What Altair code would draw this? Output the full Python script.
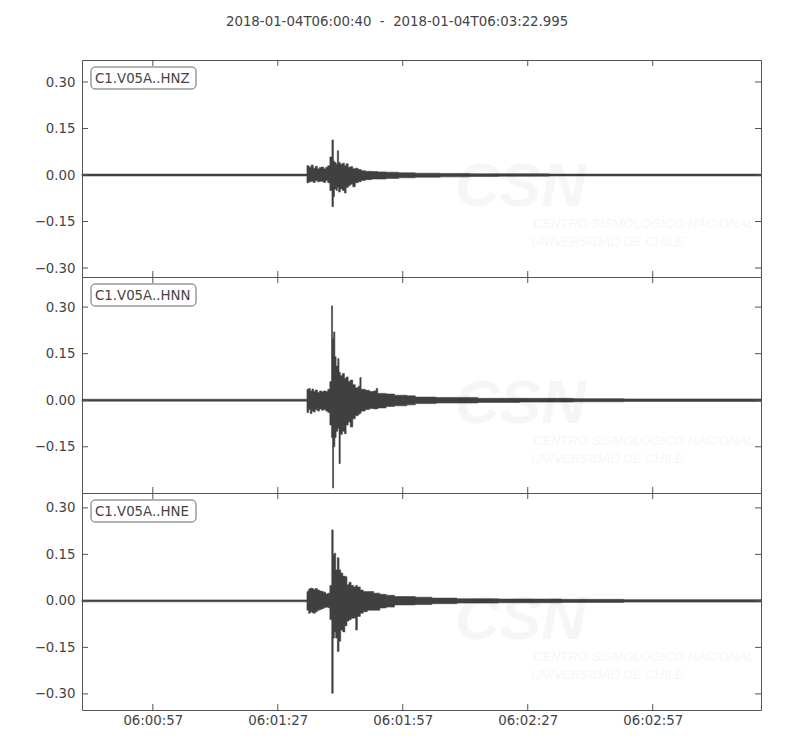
import altair as alt
import pandas as pd

TITLE = "2018-01-04T06:00:40\u00a0\u00a0-\u00a0\u00a02018-01-04T06:03:22.995"
T_END = 162.995  # seconds after 06:00:40
XTICK_SECONDS = [17, 47, 77, 107, 137]
XTICK_LABELS = ["06:00:57", "06:01:27", "06:01:57", "06:02:27", "06:02:57"]
YTICKS = [-0.30, -0.15, 0.0, 0.15, 0.30]

CHANNELS = ["C1.V05A..HNZ", "C1.V05A..HNN", "C1.V05A..HNE"]
Y_DOMAINS = [[-0.329, 0.371], [-0.299, 0.397], [-0.352, 0.348]]
Y_LABELLED = [[-0.30, -0.15, 0.0, 0.15, 0.30],
              [-0.15, 0.0, 0.15, 0.30],
              [-0.30, -0.15, 0.0, 0.15, 0.30]]

# envelope (max / min per time window) of each trace, seconds after 06:00:40
HNZ_T = [0, 54.0, 54.5, 55.0, 55.5, 56.0, 56.5, 57.0, 57.5, 58.0,
         58.5, 59.0, 59.5, 60.0, 60.35, 60.6, 61.0, 61.3, 61.6, 62.0,
         62.5, 63.0, 63.4, 63.9, 64.4, 65.0, 65.6, 66.3, 67.0, 68.0,
         69.5, 71.0, 73.0, 76.0, 80.0, 86.0, 93.0, 100.0, 112.0, 162.995]
HNZ_HI = [0.003, 0.030, 0.025, 0.032, 0.022, 0.028, 0.020, 0.024, 0.026, 0.020,
          0.025, 0.030, 0.058, 0.113, 0.045, 0.040, 0.035, 0.078, 0.040, 0.035,
          0.038, 0.030, 0.036, 0.025, 0.027, 0.020, 0.022, 0.018, 0.014, 0.012,
          0.011, 0.010, 0.009, 0.007, 0.006, 0.005, 0.004, 0.004, 0.003, 0.003]
HNZ_LO = [-0.003, -0.025, -0.022, -0.020, -0.024, -0.018, -0.022, -0.020, -0.021, -0.024,
          -0.018, -0.025, -0.050, -0.102, -0.070, -0.045, -0.050, -0.040, -0.055, -0.045,
          -0.050, -0.058, -0.040, -0.035, -0.030, -0.038, -0.025, -0.022, -0.018, -0.015,
          -0.013, -0.013, -0.011, -0.009, -0.007, -0.006, -0.005, -0.004, -0.003, -0.003]

HNN_T = [0, 54.0, 54.4, 54.8, 55.2, 55.6, 56.0, 56.5, 57.0, 57.5,
         58.0, 58.5, 59.0, 59.5, 59.9, 60.15, 60.4, 60.7, 61.0, 61.4,
         61.7, 62.0, 62.5, 63.0, 63.4, 63.9, 64.4, 65.0, 65.6, 66.3,
         66.7, 67.0, 68.0, 69.0, 70.0, 70.6, 71.0, 73.0, 75.0, 78.0,
         80.0, 85.0, 90.0, 95.0, 105.0, 118.0, 130.0, 162.995]
HNN_HI = [0.003, 0.035, 0.038, 0.030, 0.036, 0.028, 0.033, 0.025, 0.030, 0.027,
          0.030, 0.028, 0.035, 0.060, 0.304, 0.200, 0.220, 0.140, 0.110, 0.134,
          0.090, 0.080, 0.086, 0.070, 0.075, 0.060, 0.065, 0.050, 0.040, 0.045,
          0.073, 0.035, 0.032, 0.028, 0.030, 0.038, 0.022, 0.020, 0.016, 0.014,
          0.010, 0.009, 0.009, 0.006, 0.006, 0.005, 0.004, 0.004]
HNN_LO = [-0.003, -0.040, -0.030, -0.043, -0.035, -0.038, -0.030, -0.035, -0.028, -0.032,
          -0.030, -0.035, -0.040, -0.080, -0.120, -0.283, -0.150, -0.120, -0.100, -0.090,
          -0.204, -0.110, -0.100, -0.108, -0.080, -0.070, -0.086, -0.060, -0.050, -0.045,
          -0.042, -0.035, -0.030, -0.027, -0.028, -0.028, -0.025, -0.020, -0.018, -0.015,
          -0.011, -0.009, -0.009, -0.007, -0.006, -0.005, -0.004, -0.004]

HNE_T = [0, 54.0, 54.4, 54.8, 55.2, 55.6, 56.0, 56.5, 57.0, 57.5,
         58.0, 58.5, 59.0, 59.5, 59.95, 60.3, 60.6, 60.9, 61.3, 61.7,
         62.1, 62.6, 63.1, 63.6, 64.1, 64.6, 65.2, 65.7, 66.1, 66.8,
         67.5, 68.5, 70.0, 71.5, 73.0, 75.0, 80.0, 84.0, 90.0, 100.0,
         115.0, 130.0, 162.995]
HNE_HI = [0.003, 0.030, 0.038, 0.041, 0.040, 0.036, 0.040, 0.035, 0.032, 0.030,
          0.028, 0.022, 0.025, 0.050, 0.229, 0.150, 0.154, 0.100, 0.139, 0.100,
          0.090, 0.080, 0.078, 0.052, 0.060, 0.050, 0.045, 0.050, 0.045, 0.035,
          0.030, 0.030, 0.025, 0.021, 0.018, 0.014, 0.012, 0.009, 0.007, 0.006,
          0.005, 0.004, 0.004]
HNE_LO = [-0.003, -0.030, -0.040, -0.035, -0.038, -0.040, -0.035, -0.030, -0.028, -0.025,
          -0.022, -0.020, -0.022, -0.060, -0.298, -0.120, -0.100, -0.120, -0.163, -0.130,
          -0.094, -0.100, -0.080, -0.065, -0.061, -0.056, -0.055, -0.094, -0.050, -0.040,
          -0.035, -0.030, -0.030, -0.023, -0.020, -0.013, -0.012, -0.009, -0.007, -0.006,
          -0.005, -0.004, -0.004]

TRACES = [(HNZ_T, HNZ_HI, HNZ_LO), (HNN_T, HNN_HI, HNN_LO), (HNE_T, HNE_HI, HNE_LO)]

FONT = "DejaVu Sans"
TEXT = "#444444"
WAVE = "#404040"
FRAME = "#555555"
W = 679
HEIGHTS = [217, 216, 217]
TICK = 6
FS = 13.33


def x_label_expr():
    parts = [f"datum.value == {s} ? '{l}'" for s, l in zip(XTICK_SECONDS, XTICK_LABELS)]
    return " : ".join(parts) + " : ''"


def panel(i, show_x):
    t, hi, lo = TRACES[i]
    h = HEIGHTS[i]
    df = pd.DataFrame({"t": t, "hi": hi, "lo": lo})
    xs = alt.Scale(domain=[0, T_END], nice=False, zero=False)
    ys = alt.Scale(domain=Y_DOMAINS[i], nice=False, zero=False)
    if show_x:
        xaxis = alt.Axis(values=XTICK_SECONDS, labelExpr=x_label_expr(), ticks=False,
                         domain=False, grid=False, title=None, labelPadding=3,
                         labelFontSize=FS, labelFont=FONT, labelColor=TEXT)
    else:
        xaxis = None
    yaxis = alt.Axis(values=Y_LABELLED[i], format=".2f", ticks=False, domain=False,
                     grid=False, title=None, labelPadding=7, minExtent=50, maxExtent=50,
                     labelFontSize=FS, labelFont=FONT, labelColor=TEXT)

    wave = alt.Chart(df).mark_area(
        interpolate="step-after", color=WAVE, stroke=WAVE, strokeWidth=0.6
    ).encode(
        x=alt.X("t:Q", scale=xs, axis=xaxis),
        y=alt.Y("hi:Q", scale=ys, axis=yaxis),
        y2="lo:Q",
    )

    one = pd.DataFrame({"a": [0]})
    wm_csn = alt.Chart(one).mark_text(
        text="CSN", font="Liberation Sans", fontStyle="italic", fontWeight="bold",
        fontSize=62, color="#000000", opacity=0.03, align="left", baseline="alphabetic"
    ).encode(x=alt.value(373), y=alt.value(146))
    wm_l1 = alt.Chart(one).mark_text(
        text="CENTRO SISMOLÓGICO NACIONAL", font="Liberation Sans", fontStyle="italic",
        fontSize=13, color="#000000", opacity=0.035, align="left", baseline="middle"
    ).encode(x=alt.value(451), y=alt.value(164))
    wm_l2 = alt.Chart(one).mark_text(
        text="UNIVERSIDAD DE CHILE", font="Liberation Sans", fontStyle="italic",
        fontSize=13, color="#000000", opacity=0.035, align="left", baseline="middle"
    ).encode(x=alt.value(449), y=alt.value(182))

    yt = pd.DataFrame({"v": [v for v in YTICKS if Y_DOMAINS[i][0] < v < Y_DOMAINS[i][1]]})
    xt = pd.DataFrame({"v": XTICK_SECONDS})
    rule = dict(color=FRAME, strokeWidth=1)
    yl = alt.Chart(yt).mark_rule(**rule).encode(
        y=alt.Y("v:Q", scale=ys), x=alt.value(0), x2=alt.value(TICK))
    yr = alt.Chart(yt).mark_rule(**rule).encode(
        y=alt.Y("v:Q", scale=ys), x=alt.value(W - TICK), x2=alt.value(W))
    xtop = alt.Chart(xt).mark_rule(**rule).encode(
        x=alt.X("v:Q", scale=xs), y=alt.value(0), y2=alt.value(TICK))
    xbot = alt.Chart(xt).mark_rule(**rule).encode(
        x=alt.X("v:Q", scale=xs), y=alt.value(h - TICK), y2=alt.value(h))

    lab = pd.DataFrame({"label": [CHANNELS[i]]})
    box = alt.Chart(lab).mark_rect(
        fill="white", stroke="#666666", strokeWidth=1, cornerRadius=4
    ).encode(x=alt.value(9), x2=alt.value(114), y=alt.value(7), y2=alt.value(29))
    txt = alt.Chart(lab).mark_text(
        align="left", baseline="middle", font=FONT, fontSize=FS, color=TEXT
    ).encode(x=alt.value(13), y=alt.value(18.5), text="label:N")

    return alt.layer(wave, wm_csn, wm_l1, wm_l2, yl, yr, xtop, xbot, box, txt).properties(
        width=W, height=h)


chart = alt.vconcat(
    panel(0, False), panel(1, False), panel(2, True), spacing=0, bounds="flush"
).properties(
    title=alt.TitleParams(TITLE, fontSize=FS, font=FONT, color=TEXT, fontWeight="normal",
                          anchor="middle", offset=31),
    padding={"left": 23, "top": 6, "right": 20, "bottom": 6},
).configure_view(
    stroke=FRAME, strokeWidth=1
).configure_concat(spacing=0)

chart.save("out.html", embed_options={"renderer": "svg", "actions": False})
